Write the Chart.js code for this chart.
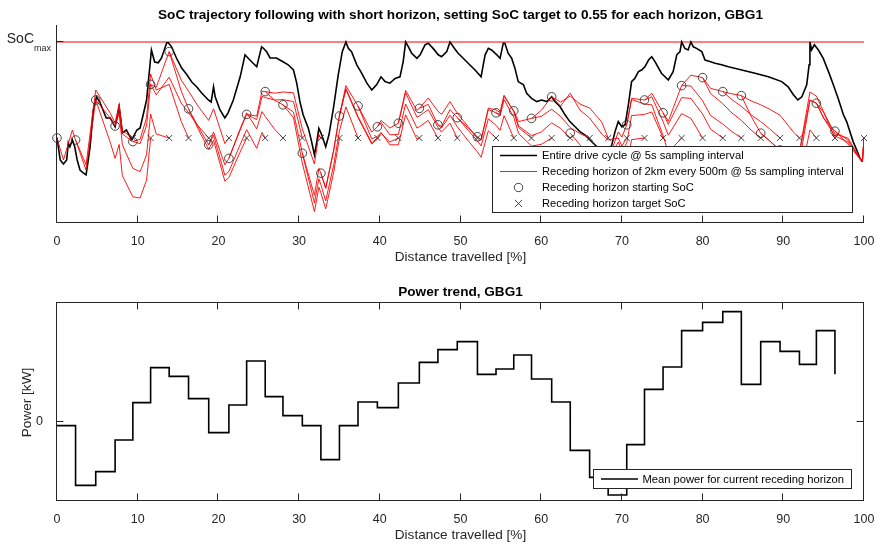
<!DOCTYPE html>
<html>
<head>
<meta charset="utf-8">
<script src="https://cdn.jsdelivr.net/npm/chart.js@4.4.0/dist/chart.umd.min.js"></script>
<style>
  html, body { margin: 0; padding: 0; background: #fff; }
  #wrap { position: relative; width: 878px; height: 545px; overflow: hidden; }
  canvas { position: absolute; left: 0; }
  #socChart { top: 0; }
  #powerChart { top: 270px; }
</style>
</head>
<body>
<div id="wrap">
  <canvas id="socChart" width="878" height="270"></canvas>
  <canvas id="powerChart" width="878" height="275"></canvas>
</div>
<script>
// ---------------- data ----------------
const SOC_MAX = 0.79;
const SOC_TARGET = 0.55;

// SoC over the entire drive cycle (5 s sampling)
const driveDistance = [0.0,0.4,0.8,1.2,1.4,1.6,1.9,2.2,2.5,2.85,3.25,3.6,3.75,4.1,4.5,4.9,5.3,6.1,6.6,7.2,7.7,8.1,8.6,9.25,9.9,10.3,11.1,11.7,12.1,12.55,12.95,13.6,13.8,14.2,14.8,15.45,16.1,16.7,17.3,17.9,18.75,19.1,19.4,19.6,20.2,20.8,21.2,21.85,22.7,23.3,23.9,24.75,25.35,25.55,26.0,26.4,27.2,28.05,28.65,29.3,29.7,30.1,30.5,31.15,31.55,31.9,32.2,32.45,32.8,33.3,33.7,34.25,34.85,35.35,35.8,36.1,36.5,37.15,37.75,38.4,39.0,39.6,40.15,40.65,41.25,41.9,42.5,42.9,43.2,43.55,43.95,44.6,45.0,45.6,46.0,46.6,47.25,47.65,48.3,48.7,49.1,49.7,50.15,50.95,51.8,52.55,53.05,53.45,53.85,54.5,54.9,55.3,55.5,55.9,56.35,56.75,57.15,57.8,58.2,58.8,59.45,60.05,60.7,61.3,61.7,62.35,62.95,63.55,64.2,64.8,65.4,66.05,66.65,67.3,67.9,68.4,68.75,69.15,69.55,70.0,70.4,70.8,71.2,71.6,72.05,72.45,72.85,73.3,73.7,74.1,74.9,75.75,76.35,76.8,77.2,77.4,77.8,78.2,78.55,78.85,79.25,79.9,80.3,80.9,81.55,82.35,83.2,84.85,86.5,88.15,89.8,90.6,91.25,91.8,92.3,92.9,93.2,93.3,93.5,93.85,94.35,94.95,95.6,96.2,96.8,97.45,97.85,98.25,98.65,99.1,99.5,99.8];
const driveSoC = [0.551,0.495,0.485,0.495,0.538,0.528,0.545,0.528,0.495,0.47,0.463,0.458,0.478,0.528,0.62,0.653,0.64,0.6,0.6,0.578,0.628,0.563,0.57,0.545,0.57,0.575,0.645,0.77,0.74,0.738,0.75,0.788,0.788,0.778,0.75,0.725,0.708,0.69,0.678,0.663,0.645,0.64,0.678,0.653,0.62,0.6,0.613,0.645,0.703,0.758,0.745,0.728,0.778,0.775,0.765,0.75,0.75,0.74,0.733,0.72,0.688,0.641,0.608,0.574,0.541,0.508,0.541,0.574,0.558,0.528,0.558,0.624,0.708,0.766,0.79,0.774,0.766,0.733,0.712,0.687,0.67,0.683,0.703,0.691,0.687,0.699,0.703,0.741,0.79,0.778,0.762,0.749,0.758,0.783,0.787,0.774,0.758,0.753,0.766,0.79,0.778,0.762,0.753,0.737,0.72,0.703,0.758,0.774,0.77,0.758,0.749,0.787,0.787,0.762,0.749,0.724,0.691,0.683,0.662,0.649,0.641,0.645,0.641,0.653,0.641,0.628,0.608,0.591,0.578,0.566,0.558,0.545,0.533,0.52,0.515,0.52,0.533,0.566,0.591,0.578,0.583,0.633,0.691,0.699,0.716,0.72,0.728,0.745,0.753,0.741,0.712,0.695,0.716,0.758,0.766,0.79,0.774,0.77,0.79,0.778,0.774,0.766,0.745,0.741,0.737,0.733,0.728,0.72,0.712,0.703,0.691,0.678,0.658,0.645,0.653,0.683,0.733,0.79,0.77,0.783,0.77,0.749,0.716,0.683,0.649,0.608,0.591,0.566,0.541,0.52,0.499,0.491];

// start of each receding horizon (every 500 m) and its starting SoC
const horizonStart = [0,2.3,4.8,7.2,9.4,11.6,13.9,16.3,18.8,21.3,23.5,25.8,28.0,30.4,32.7,35.0,37.3,39.7,42.3,44.9,47.2,49.6,52.1,54.4,56.6,58.8,61.3,63.6,66.0,68.3,70.6,72.8,75.1,77.4,80.0,82.5,84.8,87.2,89.6,92.0,94.1,96.4];
const startSoC = [0.55,0.545,0.645,0.58,0.541,0.684,0.766,0.623,0.533,0.499,0.609,0.666,0.633,0.512,0.462,0.605,0.63,0.578,0.587,0.624,0.583,0.601,0.553,0.613,0.618,0.599,0.653,0.562,0.508,0.495,0.583,0.645,0.613,0.681,0.701,0.666,0.656,0.562,0.52,0.515,0.637,0.567];

// end of each horizon (2 km ahead), where the target SoC applies
const targetDistance = [9.4,11.6,13.9,16.3,18.8,21.3,23.5,25.8,28.0,30.4,32.7,35.0,37.3,39.7,42.3,44.9,47.2,49.6,52.1,54.4,56.6,58.8,61.3,63.6,66.0,68.3,70.6,72.8,75.1,77.4,80.0,82.5,84.8,87.2,89.6,92.0,94.1,96.4,100];

// distance samples shared by the receding-horizon SoC predictions
const horizonGrid = [0,0.8,1.9,2.3,3.6,4.8,6.6,7.2,7.7,8.1,9.4,10.3,11.1,11.6,12.3,13.9,15.4,16.3,17.5,18.8,19.4,20.8,21.3,22.6,23.5,24.75,25.4,25.8,27.0,28.0,29.3,30.4,31.9,32.45,32.7,33.3,34.3,35.0,35.8,37.3,39.0,39.7,40.15,41.25,42.3,43.2,44.6,44.9,46.0,47.2,47.65,48.7,49.6,51.0,52.1,52.55,53.45,54.4,54.9,55.4,56.6,57.2,58.8,60.0,61.3,62.4,63.6,64.8,66.0,67.5,68.3,69.55,70.0,70.6,71.2,72.8,73.7,75.1,75.75,77.4,78.55,80.0,81.0,82.5,83.5,84.8,86.0,87.2,88.3,89.6,91.25,92.0,93.3,94.1,95.0,96.4,98.0,99.8,100];

// predicted SoC of each horizon, starting at its own entry of horizonStart in horizonGrid
const horizonSoC = [
  [0.55,0.495,0.57,0.545,0.483,0.67,0.612,0.587,0.635,0.568,0.55],
  [0.545,0.47,0.645,0.539,0.499,0.534,0.456,0.403,0.4,0.445,0.55],
  [0.645,0.6,0.58,0.612,0.533,0.474,0.466,0.508,0.61,0.56,0.55],
  [0.58,0.628,0.56,0.541,0.547,0.601,0.71,0.67,0.684,0.591,0.55],
  [0.541,0.536,0.581,0.684,0.658,0.702,0.637,0.613,0.58,0.55],
  [0.684,0.677,0.766,0.695,0.667,0.629,0.594,0.623,0.536,0.55],
  [0.766,0.667,0.623,0.572,0.522,0.544,0.442,0.451,0.511,0.55],
  [0.623,0.578,0.533,0.557,0.457,0.466,0.529,0.571,0.524,0.564,0.55],
  [0.533,0.565,0.483,0.499,0.568,0.613,0.573,0.616,0.604,0.571,0.55],
  [0.499,0.565,0.609,0.596,0.654,0.651,0.645,0.646,0.641,0.55],
  [0.609,0.605,0.667,0.666,0.662,0.665,0.663,0.573,0.485,0.559,0.55],
  [0.666,0.644,0.633,0.601,0.487,0.366,0.427,0.413,0.373,0.466,0.55],
  [0.633,0.615,0.512,0.388,0.448,0.433,0.393,0.484,0.567,0.628,0.55],
  [0.512,0.407,0.474,0.462,0.425,0.522,0.608,0.674,0.604,0.538,0.55],
  [0.462,0.424,0.52,0.605,0.671,0.601,0.535,0.547,0.562,0.54,0.55],
  [0.605,0.681,0.63,0.548,0.554,0.564,0.533,0.533,0.608,0.547,0.55],
  [0.63,0.565,0.578,0.589,0.558,0.559,0.635,0.575,0.578,0.594,0.55],
  [0.578,0.594,0.575,0.587,0.663,0.602,0.605,0.621,0.577,0.565,0.587,0.55],
  [0.587,0.669,0.619,0.624,0.65,0.617,0.609,0.641,0.612,0.577,0.55],
  [0.624,0.634,0.583,0.575,0.607,0.578,0.542,0.515,0.502,0.568,0.55],
  [0.583,0.579,0.621,0.601,0.568,0.543,0.53,0.598,0.582,0.569,0.606,0.55],
  [0.601,0.574,0.553,0.546,0.625,0.62,0.614,0.657,0.616,0.576,0.55],
  [0.553,0.545,0.621,0.613,0.605,0.646,0.602,0.561,0.53,0.534,0.55],
  [0.613,0.609,0.654,0.618,0.58,0.556,0.565,0.588,0.574,0.55],
  [0.618,0.591,0.599,0.604,0.622,0.604,0.576,0.561,0.55],
  [0.599,0.619,0.653,0.64,0.655,0.635,0.625,0.59,0.55],
  [0.653,0.63,0.662,0.62,0.6,0.56,0.545,0.55,0.53,0.55],
  [0.562,0.533,0.508,0.451,0.435,0.48,0.458,0.477,0.546,0.55],
  [0.508,0.49,0.495,0.54,0.517,0.537,0.606,0.609,0.615,0.55],
  [0.495,0.565,0.552,0.583,0.646,0.635,0.633,0.556,0.514,0.55],
  [0.583,0.649,0.645,0.653,0.591,0.557,0.611,0.599,0.55],
  [0.645,0.662,0.613,0.584,0.651,0.649,0.61,0.572,0.55],
  [0.613,0.592,0.681,0.68,0.643,0.606,0.585,0.568,0.55],
  [0.681,0.707,0.701,0.661,0.636,0.615,0.594,0.57,0.55],
  [0.701,0.674,0.666,0.648,0.629,0.608,0.591,0.573,0.55],
  [0.666,0.661,0.656,0.643,0.633,0.622,0.607,0.565,0.55],
  [0.656,0.605,0.562,0.543,0.518,0.463,0.443,0.57,0.55],
  [0.562,0.543,0.52,0.498,0.49,0.644,0.637,0.614,0.55],
  [0.52,0.51,0.515,0.665,0.655,0.615,0.56,0.55,0.49,0.55],
  [0.515,0.645,0.637,0.6,0.555,0.54,0.49,0.55],
  [0.637,0.6,0.567,0.545,0.49,0.55],
  [0.567,0.535,0.49,0.55]
];

// mean power over each receding horizon [kW]
const meanPower = [-0.6,-9.55,-7.5,-2.75,2.85,8.1,6.8,3.45,-1.65,2.5,9.1,3.75,0.9,-0.6,-5.7,-0.6,2.95,2.1,5.8,8.9,10.8,12.0,7.1,7.9,10.0,6.4,2.95,-4.3,-8.35,-11.0,-3.45,4.85,8.2,13.65,14.9,16.5,5.6,12.0,10.55,8.6,13.65,7.1];

const xTicks = [0,10,20,30,40,50,60,70,80,90,100];

// ---------------- styling ----------------
const FONT = '"Liberation Sans", Arial, Helvetica, sans-serif';
const AXIS = '#262626';
const RED = '#ff0000';

function pts(xs, ys) { return xs.map((x, i) => ({ x: x, y: ys[i] })); }

function drawCircleMarker(ctx, cx, cy, r) {
  ctx.beginPath(); ctx.arc(cx, cy, r, 0, Math.PI * 2); ctx.stroke();
}
function drawCrossMarker(ctx, cx, cy, r) {
  ctx.beginPath();
  ctx.moveTo(cx - r, cy - r); ctx.lineTo(cx + r, cy + r);
  ctx.moveTo(cx - r, cy + r); ctx.lineTo(cx + r, cy - r);
  ctx.stroke();
}

function drawLegend(ctx, box, rows) {
  ctx.save();
  ctx.fillStyle = '#fff';
  ctx.fillRect(box.x, box.y, box.w, box.h);
  ctx.strokeStyle = AXIS; ctx.lineWidth = 1;
  ctx.strokeRect(box.x + 0.5, box.y + 0.5, box.w, box.h);
  ctx.font = '11.2px ' + FONT;
  ctx.textBaseline = 'middle'; ctx.textAlign = 'left';
  rows.forEach((r, i) => {
    const cy = box.y + box.rowTop + i * box.rowStep;
    const mx = (box.sx0 + box.sx1) / 2;
    ctx.strokeStyle = r.color;
    if (r.kind === 'line') {
      ctx.lineWidth = r.width;
      ctx.beginPath(); ctx.moveTo(box.sx0, cy); ctx.lineTo(box.sx1, cy); ctx.stroke();
    } else if (r.kind === 'circle') {
      ctx.lineWidth = 0.9; drawCircleMarker(ctx, mx, cy, 4.2);
    } else {
      ctx.lineWidth = 0.9; drawCrossMarker(ctx, mx, cy, 3.6);
    }
    ctx.fillStyle = '#000';
    ctx.fillText(r.text, box.tx, cy + 0.5);
  });
  ctx.restore();
}

// x axis without the extra room Chart.js reserves for the outer tick labels
function fitXAxis(h) {
  return function (s) { s.height = h; s.paddingLeft = 0; s.paddingRight = 0; };
}

// ---------------- SoC trajectory chart ----------------
const socDecor = {
  id: 'socDecor',
  afterDraw(chart) {
    const { ctx, chartArea: a, scales: { x, y } } = chart;
    ctx.save();
    ctx.strokeStyle = AXIS; ctx.lineWidth = 1;
    const L = Math.round(a.left) - 0.5, B = Math.round(a.bottom) - 0.5;
    ctx.beginPath();
    ctx.moveTo(L, a.top); ctx.lineTo(L, B);
    ctx.lineTo(Math.round(a.right), B);
    ctx.stroke();
    // inward tick marks
    ctx.beginPath();
    xTicks.forEach(v => {
      const px = Math.round(x.getPixelForValue(v)) - 0.5;
      ctx.moveTo(px, B); ctx.lineTo(px, B - 7);
    });
    const py = Math.round(y.getPixelForValue(SOC_MAX)) - 0.5;
    ctx.moveTo(L, py); ctx.lineTo(L + 7, py);
    ctx.stroke();

    // y tick label: SoC with subscript "max"
    ctx.fillStyle = AXIS;
    ctx.textBaseline = 'alphabetic';
    ctx.font = '9px ' + FONT;
    const wSub = ctx.measureText('max').width;
    const subX = a.left - 6 - wSub;
    ctx.textAlign = 'left';
    ctx.fillText('max', subX, py + 9.5);
    ctx.font = '14px ' + FONT;
    ctx.textAlign = 'right';
    ctx.fillText('SoC', subX, py + 1.5);

    // title and axis title
    ctx.fillStyle = '#000';
    ctx.textAlign = 'center'; ctx.textBaseline = 'middle';
    ctx.font = 'bold 13.6px ' + FONT;
    ctx.fillText('SoC trajectory following with short horizon, setting SoC target to 0.55 for each horizon, GBG1', (a.left + a.right) / 2, 15);
    ctx.fillStyle = AXIS;
    ctx.font = '13.6px ' + FONT;
    ctx.fillText('Distance travelled [%]', (a.left + a.right) / 2, a.bottom + 34);
    ctx.restore();

    drawLegend(ctx, { x: 492, y: 146, w: 360, h: 66, rowTop: 9.5, rowStep: 16, sx0: 500, sx1: 537, tx: 542 }, [
      { kind: 'line', color: '#000', width: 1.6, text: 'Entire drive cycle @ 5s sampling interval' },
      { kind: 'line', color: RED, width: 0.9, text: 'Receding horizon of 2km every 500m @ 5s sampling interval' },
      { kind: 'circle', color: '#333', text: 'Receding horizon starting SoC' },
      { kind: 'cross', color: '#333', text: 'Receding horizon target SoC' }
    ]);
  }
};

const socDatasets = [];
socDatasets.push({
  label: 'SoC max', data: [{ x: 0, y: SOC_MAX }, { x: 100, y: SOC_MAX }],
  showLine: true, borderColor: RED, borderWidth: 1.2, pointRadius: 0, order: 4
});
socDatasets.push({
  label: 'Entire drive cycle @ 5s sampling interval', data: pts(driveDistance, driveSoC),
  showLine: true, borderColor: '#000', borderWidth: 1.6, pointRadius: 0, order: 3
});
horizonSoC.forEach((vals, h) => {
  const g0 = horizonGrid.indexOf(horizonStart[h]);
  socDatasets.push({
    label: 'Receding horizon ' + (h + 1),
    data: vals.map((v, k) => ({ x: horizonGrid[g0 + k], y: v })),
    showLine: true, borderColor: RED, borderWidth: 0.9, pointRadius: 0, order: 2
  });
});
socDatasets.push({
  label: 'Receding horizon starting SoC', data: pts(horizonStart, startSoC),
  showLine: false, pointStyle: 'circle', pointRadius: 4.3, borderWidth: 0.9,
  borderColor: '#333', backgroundColor: 'rgba(0,0,0,0)', clip: false, order: 1
});
socDatasets.push({
  label: 'Receding horizon target SoC', data: targetDistance.map(d => ({ x: d, y: SOC_TARGET })),
  showLine: false, pointStyle: 'crossRot', pointRadius: 4.3, borderWidth: 0.9,
  borderColor: '#333', backgroundColor: 'rgba(0,0,0,0)', clip: false, order: 0
});

new Chart(document.getElementById('socChart'), {
  type: 'scatter',
  data: { datasets: socDatasets },
  options: {
    responsive: false, animation: false, devicePixelRatio: 1,
    layout: { padding: { top: 25, right: 14, left: 0, bottom: 0 } },
    plugins: { legend: { display: false }, tooltip: { enabled: false }, title: { display: false } },
    elements: { line: { tension: 0 } },
    scales: {
      x: {
        type: 'linear', min: 0, max: 100,
        grid: { display: false }, border: { display: false },
        ticks: { stepSize: 10, autoSkip: false, maxRotation: 0, padding: 3, color: AXIS, font: { family: FONT, size: 12.5 } },
        afterBuildTicks(s) { s.ticks = xTicks.map(v => ({ value: v })); },
        afterFit: fitXAxis(47)
      },
      y: {
        type: 'linear', min: 0.3375, max: 0.8325,
        grid: { display: false }, border: { display: false },
        ticks: { display: false },
        afterFit(s) { s.width = 57; }
      }
    }
  },
  plugins: [socDecor]
});

// ---------------- power trend chart ----------------
const powerDecor = {
  id: 'powerDecor',
  afterDraw(chart) {
    const { ctx, chartArea: a, scales: { x, y } } = chart;
    ctx.save();
    ctx.strokeStyle = AXIS; ctx.lineWidth = 1;
    const L = Math.round(a.left) - 0.5, R = Math.round(a.right) - 0.5;
    const T = Math.round(a.top) + 0.5, B = Math.round(a.bottom) - 0.5;
    ctx.strokeRect(L, T, R - L, B - T);
    ctx.beginPath();
    xTicks.forEach(v => {
      const px = Math.round(x.getPixelForValue(v)) - 0.5;
      ctx.moveTo(px, B); ctx.lineTo(px, B - 7);
      ctx.moveTo(px, T); ctx.lineTo(px, T + 7);
    });
    const py = Math.round(y.getPixelForValue(0)) - 0.5;
    ctx.moveTo(L, py); ctx.lineTo(L + 7, py);
    ctx.moveTo(R, py); ctx.lineTo(R - 7, py);
    ctx.stroke();

    ctx.fillStyle = '#000';
    ctx.textAlign = 'center'; ctx.textBaseline = 'middle';
    ctx.font = 'bold 13.6px ' + FONT;
    ctx.fillText('Power trend, GBG1', (a.left + a.right) / 2, 22);
    ctx.fillStyle = AXIS;
    ctx.font = '13.6px ' + FONT;
    ctx.fillText('Distance travelled [%]', (a.left + a.right) / 2, a.bottom + 34);
    ctx.save();
    ctx.translate(27, (a.top + a.bottom) / 2 + 1);
    ctx.rotate(-Math.PI / 2);
    ctx.fillText('Power [kW]', 0, 0);
    ctx.restore();
    ctx.restore();

    drawLegend(ctx, { x: 593, y: 199, w: 258, h: 19, rowTop: 10, rowStep: 16, sx0: 601, sx1: 638, tx: 642.5 }, [
      { kind: 'line', color: '#000', width: 1.6, text: 'Mean power for current receding horizon' }
    ]);
  }
};

new Chart(document.getElementById('powerChart'), {
  type: 'scatter',
  data: {
    datasets: [{
      label: 'Mean power for current receding horizon',
      data: pts(horizonStart, meanPower),
      showLine: true, stepped: true, borderColor: '#000', borderWidth: 1.6, pointRadius: 0
    }]
  },
  options: {
    responsive: false, animation: false, devicePixelRatio: 1,
    layout: { padding: { top: 32, right: 14, left: 0, bottom: 0 } },
    plugins: { legend: { display: false }, tooltip: { enabled: false }, title: { display: false } },
    scales: {
      x: {
        type: 'linear', min: 0, max: 100,
        grid: { display: false }, border: { display: false },
        ticks: { stepSize: 10, autoSkip: false, maxRotation: 0, padding: 3, color: AXIS, font: { family: FONT, size: 12.5 } },
        afterBuildTicks(s) { s.ticks = xTicks.map(v => ({ value: v })); },
        afterFit: fitXAxis(44)
      },
      y: {
        type: 'linear', min: -11.9, max: 17.95,
        grid: { display: false }, border: { display: false },
        ticks: { padding: 6, color: AXIS, font: { family: FONT, size: 12.5 } },
        afterBuildTicks(s) { s.ticks = [{ value: 0 }]; },
        afterFit(s) { s.width = 57; }
      }
    }
  },
  plugins: [powerDecor]
});
</script>
</body>
</html>
